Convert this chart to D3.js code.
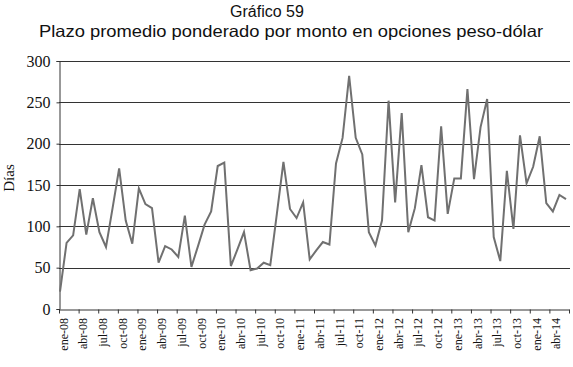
<!DOCTYPE html>
<html>
<head>
<meta charset="utf-8">
<script src="https://cdn.jsdelivr.net/npm/d3@7"></script>
<style>
  body { margin: 0; background: #fff; }
</style>
</head>
<body>
<div id="chart"></div>
<script>
// monthly series, ene-08 .. jun-14
let meses = ["ene", "feb", "mar", "abr", "may", "jun", "jul", "ago", "sep", "oct", "nov", "dic"];
let anios = ["08", "09", "10", "11", "12", "13", "14"];
let dias = [21, 80, 89, 145, 90, 134, 93, 75, 122, 170, 107, 79,
            146, 127, 122, 56, 76, 72, 63, 113, 51, 76, 102, 118,
            173, 177, 52, 72, 93, 47, 49, 56, 53, 115, 178, 121,
            110, 129, 60, 71, 81, 78, 176, 207, 282, 207, 187, 93,
            77, 107, 252, 129, 237, 93, 122, 174, 111, 107, 221, 115,
            158, 158, 266, 157, 220, 254, 87, 58, 167, 97, 210, 152,
            172, 209, 128, 118, 138, 133];
let categorias = dias.map((d, i) => meses[i % 12] + "-" + anios[Math.floor(i / 12)]);
let yTicks = [0, 50, 100, 150, 200, 250, 300];

let width = 573, height = 367;
let margin = { top: 61, bottom: 309, left: 59, right: 570 };

let svg = d3.select("#chart")
            .append("svg")
            .attr("width", width)
            .attr("height", height);

let yscale = d3.scaleLinear()
               .domain([0, 300])
               .range([margin.bottom, margin.top]);

// points
let xscale = d3.scaleLinear()
               .domain([0, dias.length - 1])
               .range([60, 566]);

// tick marks every 3 months
let tickscale = d3.scaleLinear()
                  .domain([0, dias.length])
                  .range([margin.left, 569]);

// gridlines
svg.append("g")
   .selectAll("line")
   .data(yTicks.filter(d => d > 0))
   .enter()
   .append("line")
   .attr("x1", margin.left)
   .attr("x2", margin.right)
   .attr("y1", d => Math.round(yscale(d)) + 0.5)
   .attr("y2", d => Math.round(yscale(d)) + 0.5)
   .attr("stroke", "#333")
   .attr("stroke-width", 1.2);

let yaxis = svg.append("g")
               .attr("transform", `translate(${margin.left}.5, 0)`)
               .call(d3.axisLeft(yscale).tickValues(yTicks).tickSize(3).tickPadding(6));
yaxis.select(".domain").attr("stroke", "#333");
yaxis.selectAll("line").attr("stroke", "#333");
yaxis.selectAll("text")
     .attr("font-family", "Liberation Serif")
     .attr("font-size", 16)
     .attr("fill", "#111");

let xaxis = svg.append("g")
               .attr("transform", `translate(0, ${margin.bottom}.5)`)
               .call(d3.axisBottom(tickscale)
                       .tickValues(d3.range(0, dias.length + 1, 3))
                       .tickSize(4)
                       .tickSizeOuter(0)
                       .tickFormat(""));
xaxis.select(".domain").attr("stroke", "#333");
xaxis.selectAll("line").attr("stroke", "#333");

svg.append("g")
   .selectAll("text")
   .data(d3.range(0, dias.length, 3))
   .enter()
   .append("text")
   .text(i => categorias[i])
   .attr("transform", i => `translate(${xscale(i) + 7.5}, 318) rotate(-90)`)
   .attr("text-anchor", "end")
   .attr("font-family", "Liberation Serif")
   .attr("font-size", 12)
   .attr("fill", "#111");

svg.append("text")
   .text("Días")
   .attr("transform", "translate(14, 178) rotate(-90)")
   .attr("text-anchor", "middle")
   .attr("font-family", "Liberation Serif")
   .attr("font-size", 15)
   .attr("fill", "#111");

svg.append("text")
   .text("Gráfico 59")
   .attr("x", 267)
   .attr("y", 17)
   .attr("text-anchor", "middle")
   .attr("font-family", "Liberation Sans")
   .attr("font-size", 16)
   .attr("fill", "#111");

svg.append("text")
   .text("Plazo promedio ponderado por monto en opciones peso-dólar")
   .attr("x", 291)
   .attr("y", 37)
   .attr("text-anchor", "middle")
   .attr("textLength", 504)
   .attr("lengthAdjust", "spacingAndGlyphs")
   .attr("font-family", "Liberation Sans")
   .attr("font-size", 16.5)
   .attr("fill", "#111");

let line = d3.line()
             .x((d, i) => xscale(i))
             .y(d => yscale(d));

svg.append("path")
   .datum(dias)
   .attr("d", line)
   .attr("fill", "none")
   .attr("stroke", "#707070")
   .attr("stroke-width", 2)
   .attr("stroke-linejoin", "miter");
</script>
</body>
</html>
